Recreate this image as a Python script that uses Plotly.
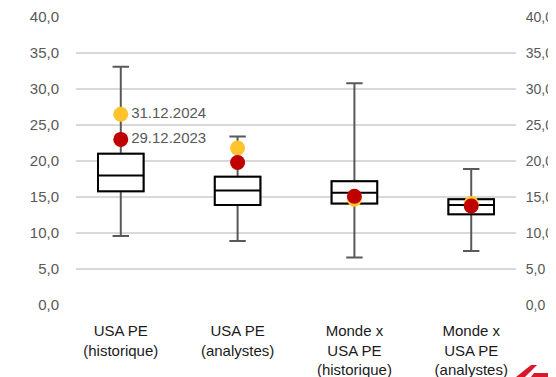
import plotly.graph_objects as go

categories = ["USA PE<br>(historique)", "USA PE<br>(analystes)",
              "Monde x<br>USA PE<br>(historique)", "Monde x<br>USA PE<br>(analystes)"]
whisker_low = [9.6, 8.9, 6.6, 7.5]
q1 = [15.8, 13.9, 14.1, 12.6]
median = [18.0, 15.9, 15.6, 13.9]
q3 = [21.0, 17.8, 17.2, 14.7]
whisker_high = [33.1, 23.4, 30.8, 18.9]
pe_2024 = [26.5, 21.8, 14.7, 14.1]
pe_2023 = [23.0, 19.8, 15.1, 13.75]
dot_labels_2024 = ["31.12.2024", "", "", ""]
dot_labels_2023 = ["29.12.2023", "", "", ""]
yticks = [0, 5, 10, 15, 20, 25, 30, 35, 40]

GRAY = "#595959"
FONT = "Liberation Sans, Arial, sans-serif"

fig = go.Figure()

# whiskers (gray)
fig.add_trace(go.Box(
    x=categories, q1=q1, median=median, q3=q3,
    lowerfence=whisker_low, upperfence=whisker_high,
    line=dict(color=GRAY, width=2), fillcolor="white",
    width=0.39, whiskerwidth=0.36, boxpoints=False, hoverinfo="skip",
    showlegend=False,
))
# boxes (black)
fig.add_trace(go.Box(
    x=categories, q1=q1, median=median, q3=q3,
    lowerfence=q1, upperfence=q3,
    line=dict(color="black", width=2), fillcolor="white",
    width=0.39, whiskerwidth=0, boxpoints=False,
    showlegend=False,
))
fig.add_trace(go.Scatter(
    x=categories, y=pe_2024, mode="markers+text",
    text=dot_labels_2024, textposition="middle right",
    textfont=dict(family=FONT, size=15, color=GRAY),
    marker=dict(color="#FFC32B", size=15), showlegend=False,
))
fig.add_trace(go.Scatter(
    x=categories, y=pe_2023, mode="markers+text",
    text=dot_labels_2023, textposition="middle right",
    textfont=dict(family=FONT, size=15, color=GRAY),
    marker=dict(color="#C00000", size=15), showlegend=False,
))
# invisible trace to activate the right axis
fig.add_trace(go.Scatter(x=categories, y=median, yaxis="y2", mode="markers",
                         marker=dict(opacity=0), hoverinfo="skip", showlegend=False))

ytext = [f"{v:.1f}".replace(".", ",") for v in yticks]
yax = dict(range=[0, 40], tickvals=yticks, ticktext=ytext, ticks="outside",
           ticklen=0, tickfont=dict(family=FONT, size=15, color=GRAY),
           ticklabelstandoff=13, zeroline=False, fixedrange=True,
           automargin=False)
yax2 = dict(yax, tickfont=dict(family=FONT, size=14, color=GRAY),
            ticklabelstandoff=6)

fig.update_layout(
    width=556, height=369,
    margin=dict(l=68, r=48, t=9, b=72, autoexpand=False),
    paper_bgcolor="white", plot_bgcolor="white",
    boxmode="overlay",
    xaxis=dict(tickfont=dict(family=FONT, size=15, color="#1a1a1a"),
               showgrid=False, showline=False, ticks="outside", ticklen=0,
               ticklabelstandoff=12, automargin=False),
    yaxis=dict(**yax, showgrid=True, gridcolor="#D9D9D9", gridwidth=2),
    yaxis2=dict(**yax2, overlaying="y", side="right", showgrid=False),
    shapes=[
        dict(type="path", xref="paper", yref="paper", layer="above",
             path="M 1.0 -0.2500 L 1.0205 -0.2500 L 1.0477 -0.2083 L 1.0341 -0.2083 Z",
             fillcolor="#D7192A", line=dict(width=0)),
        dict(type="path", xref="paper", yref="paper", layer="above",
             path="M 1.0341 -0.2500 L 1.0841 -0.2500 L 1.0818 -0.2361 L 1.0409 -0.2361 Z",
             fillcolor="#D7192A", line=dict(width=0)),
    ],
)

fig.write_html("out.html")
